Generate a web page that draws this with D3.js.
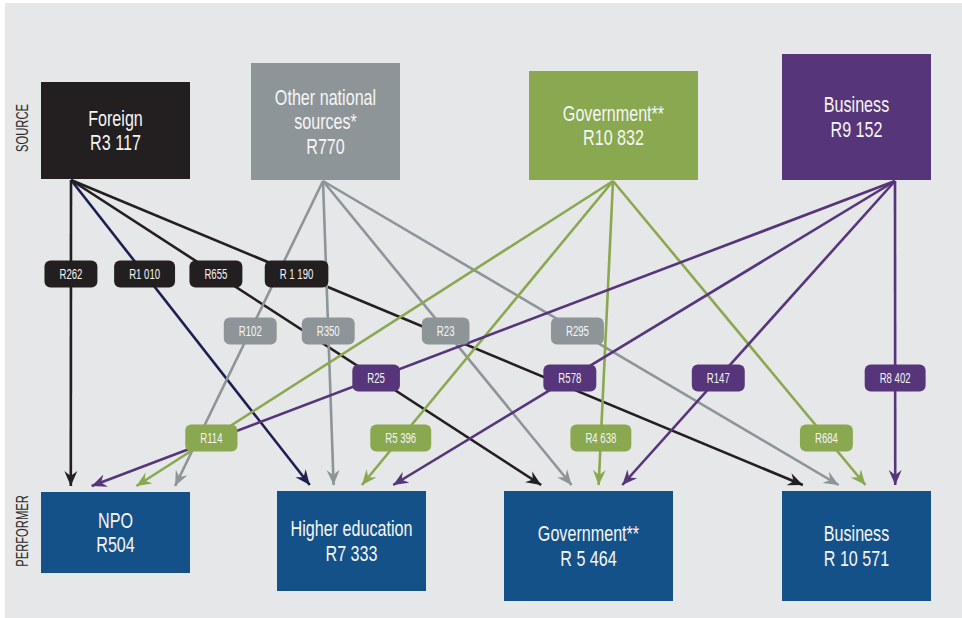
<!DOCTYPE html>
<html>
<head>
  <meta charset="utf-8">
  <style type="text/css">
	body { margin: 0; background: #fff; }
	text { font-family: "Liberation Sans", Arial, sans-serif; }
  </style>
</head>
<body>
<svg width="962" height="618"></svg>
<script src="https://d3js.org/d3.v7.min.js"></script>
<script>
	// funding sources (top row) and performers (bottom row)
	var sourceNames = [["Foreign"], ["Other national", "sources*"], ["Government**"], ["Business"]];
	var sourceTotals = ["R3 117", "R770", "R10 832", "R9 152"];
	var performerNames = [["NPO"], ["Higher education"], ["Government**"], ["Business"]];
	var performerTotals = ["R504", "R7 333", "R 5 464", "R 10 571"];

	// flows[source][performer], R million
	var flows = [
		[262, 1010, 655, 1190],
		[102, 350, 23, 295],
		[114, 5396, 4638, 684],
		[25, 578, 147, 8402]
	];
	var flowLabels = [
		["R262", "R1 010", "R655", "R 1 190"],
		["R102", "R350", "R23", "R295"],
		["R114", "R5 396", "R4 638", "R684"],
		["R25", "R578", "R147", "R8 402"]
	];

	// layout
	var srcBox = [
		{x: 41, y: 82, w: 149, h: 97},
		{x: 251, y: 63, w: 149, h: 117},
		{x: 529, y: 71, w: 169, h: 109},
		{x: 782, y: 54, w: 149, h: 126}
	];
	var perfBox = [
		{x: 41, y: 492, w: 149, h: 81},
		{x: 277, y: 491, w: 149, h: 100},
		{x: 504, y: 491, w: 169, h: 110},
		{x: 782, y: 491, w: 149, h: 110}
	];
	var srcAnchor = [71, 323, 613, 895];          // x where the lines leave each source
	// where arrows from each source land on each performer (fraction of box width)
	var dock = [
		[0.20, 0.22, 0.22, 0.14],
		[0.90, 0.38, 0.40, 0.38],
		[0.64, 0.57, 0.56, 0.56],
		[0.34, 0.78, 0.70, 0.76]
	];
	var labelRow = [274, 331, 438, 378];          // y of the value tags per source

	var srcColor = ["#231f20", "#8d9598", "#8aa84f", "#56357a"];
	var perfColor = "#135188";
	var navy = "#1b1f52";
	var squeeze = 0.75;                            // fake a condensed face

	var svg = d3.select("svg");

	svg.append("rect")
			.attr("x", 5).attr("y", 3)
			.attr("width", 957).attr("height", 615)
			.attr("fill", "#e6e7e9");

	var defs = svg.append("defs");
	var colors = srcColor.concat([navy]);
	colors.forEach(function(c, i) {
		defs.append("marker")
				.attr("id", "arr" + i)
				.attr("viewBox", "-15 -7 16 14")
				.attr("markerUnits", "userSpaceOnUse")
				.attr("markerWidth", 16)
				.attr("markerHeight", 14)
				.attr("refX", 0)
				.attr("refY", 0)
				.attr("orient", "auto")
			.append("path")
				.attr("d", "M0,0 L-15,-6.5 L-10,0 L-15,6.5 Z")
				.attr("fill", c);
	});

	// build edges
	var edges = [];
	flows.forEach(function(row, s) {
		row.forEach(function(v, p) {
			var b = perfBox[p];
			var e = {
				s: s, p: p, value: v, label: flowLabels[s][p],
				x1: srcAnchor[s], y1: srcBox[s].y + srcBox[s].h + 1,
				x2: b.x + dock[s][p] * b.w, y2: b.y - 6,
				color: (s === 0 && p === 1) ? navy : srcColor[s],
				marker: (s === 0 && p === 1) ? 4 : s
			};
			var t = (labelRow[s] - e.y1) / (e.y2 - e.y1);
			e.lx = e.x1 + t * (e.x2 - e.x1);
			e.ly = labelRow[s];
			edges.push(e);
		});
	});

	svg.append("g")
		.selectAll("line")
		.data(edges)
		.enter().append("line")
			.attr("x1", function(d) { return d.x1; })
			.attr("y1", function(d) { return d.y1; })
			.attr("x2", function(d) { return d.x2; })
			.attr("y2", function(d) { return d.y2; })
			.attr("stroke", function(d) { return d.color; })
			.attr("stroke-width", 2.6)
			.attr("marker-end", function(d) { return "url(#arr" + d.marker + ")"; });

	// value tags
	var tagK = 0.64;
	var tag = svg.append("g")
		.selectAll("g")
		.data(edges)
		.enter().append("g")
			.attr("transform", function(d) { return "translate(" + d.lx + "," + d.ly + ")"; });

	tag.append("rect");
	tag.append("text")
			.attr("transform", "scale(" + tagK + ",1)")
			.attr("text-anchor", "middle")
			.attr("dy", "0.36em")
			.attr("font-size", 15)
			.attr("fill", "#f4f4f4")
			.text(function(d) { return d.label; });
	tag.each(function(d) {
		var w = d3.select(this).select("text").node().getComputedTextLength() * tagK + 30;
		d3.select(this).select("rect")
				.attr("x", -w / 2).attr("y", -13.5)
				.attr("width", w).attr("height", 27)
				.attr("rx", 6).attr("ry", 6)
				.attr("fill", srcColor[d.s]);
	});

	function drawBoxes(boxes, names, totals, fill) {
		var g = svg.append("g")
			.selectAll("g")
			.data(boxes)
			.enter().append("g");

		g.append("rect")
				.attr("x", function(d) { return d.x; })
				.attr("y", function(d) { return d.y; })
				.attr("width", function(d) { return d.w; })
				.attr("height", function(d) { return d.h; })
				.attr("fill", function(d, i) { return fill(i); });

		g.each(function(d, i) {
			var lines = names[i].concat([totals[i]]);
			var lh = 24.5;
			var y0 = d.y + d.h / 2 - (lines.length - 1) * lh / 2;
			d3.select(this).selectAll("text")
				.data(lines)
				.enter().append("text")
					.attr("transform", function(t, j) {
						return "translate(" + (d.x + d.w / 2) + "," + (y0 + j * lh) + ") scale(" + squeeze + ",1)";
					})
					.attr("dy", "0.36em")
					.attr("text-anchor", "middle")
					.attr("font-size", 21.5)
					.attr("fill", "#f6f6f6")
					.text(function(t) { return t; });
		});
	}

	drawBoxes(srcBox, sourceNames, sourceTotals, function(i) { return srcColor[i]; });
	drawBoxes(perfBox, performerNames, performerTotals, function() { return perfColor; });

	// side captions
	[["SOURCE", 128], ["PERFORMER", 531]].forEach(function(c) {
		svg.append("text")
				.attr("transform", "translate(22," + c[1] + ") rotate(-90) scale(0.7,1)")
				.attr("text-anchor", "middle")
				.attr("dy", "0.36em")
				.attr("font-size", 16)
				.attr("fill", "#2b2b2b")
				.text(c[0]);
	});
</script>
</body>
</html>
